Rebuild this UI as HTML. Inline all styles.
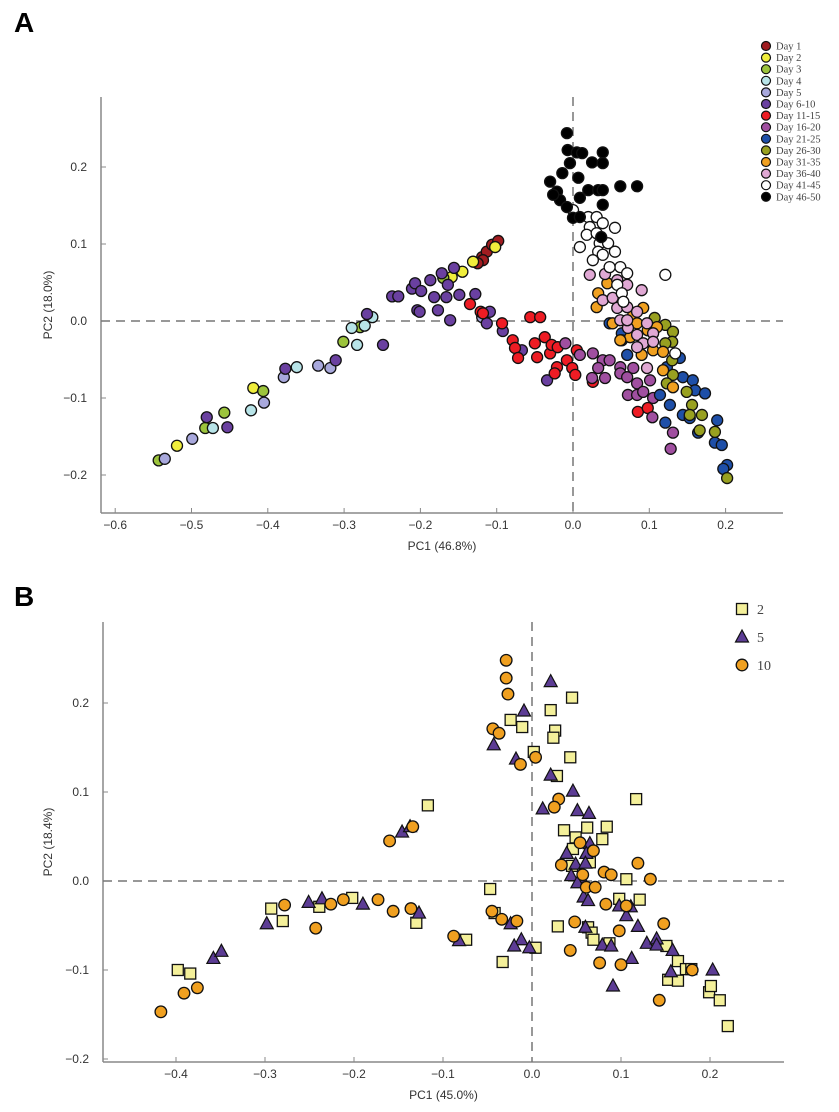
<!DOCTYPE html>
<html><head><meta charset="utf-8"><style>
body{margin:0;background:#fff;}
svg{display:block;font-family:"Liberation Sans",sans-serif;}
</style></head><body>
<svg id="fig" width="839" height="1112" viewBox="0 0 839 1112" xmlns="http://www.w3.org/2000/svg">
<text x="14" y="32" font-size="28" font-weight="bold">A</text>
<text x="14" y="606" font-size="28" font-weight="bold">B</text>
<g id="pa"></g>
<g id="pb"></g>
</svg>
<script>
// ===== Panel A data =====
const groupsA = ["Day 1","Day 2","Day 3","Day 4","Day 5","Day 6-10","Day 11-15","Day 16-20","Day 21-25","Day 26-30","Day 31-35","Day 36-40","Day 41-45","Day 46-50"];
const colorsA = ["#a01c20","#f0ee3c","#9cc43c","#b8e4e8","#a8a8dc","#6a40a0","#ee1c24","#a04fa0","#1e4fa8","#98a020","#f0a020","#e0a8d4","#ffffff","#000000"];
const ptsA = [
 [[-0.119,0.083],[-0.113,0.090],[-0.106,0.099],[-0.098,0.104],[-0.118,0.079],[-0.125,0.075]],
 [[-0.519,-0.162],[-0.419,-0.087],[-0.145,0.064],[-0.159,0.057],[-0.131,0.077],[-0.102,0.096]],
 [[-0.543,-0.181],[-0.482,-0.139],[-0.457,-0.119],[-0.406,-0.091],[-0.301,-0.027],[-0.279,-0.008],[-0.170,0.056]],
 [[-0.472,-0.139],[-0.422,-0.116],[-0.362,-0.060],[-0.290,-0.009],[-0.283,-0.031],[-0.273,-0.006],[-0.263,0.005]],
 [[-0.535,-0.179],[-0.499,-0.153],[-0.405,-0.106],[-0.379,-0.073],[-0.334,-0.058],[-0.318,-0.061],[-0.119,0.005]],
 [[-0.480,-0.125],[-0.453,-0.138],[-0.377,-0.062],[-0.311,-0.051],[-0.270,0.009],[-0.249,-0.031],[-0.237,0.032],[-0.229,0.032],[-0.211,0.042],[-0.207,0.049],[-0.199,0.039],[-0.187,0.053],[-0.204,0.014],[-0.201,0.012],[-0.182,0.031],[-0.177,0.014],[-0.172,0.062],[-0.166,0.031],[-0.164,0.047],[-0.161,0.001],[-0.156,0.069],[-0.149,0.034],[-0.128,0.035],[-0.113,-0.003],[-0.109,0.012],[-0.092,-0.013],[-0.067,-0.038],[-0.034,-0.077]],
 [[-0.135,0.022],[-0.121,0.012],[-0.093,-0.003],[-0.079,-0.025],[-0.076,-0.035],[-0.072,-0.048],[-0.056,0.005],[-0.043,0.005],[-0.050,-0.029],[-0.047,-0.047],[-0.037,-0.021],[-0.030,-0.042],[-0.028,-0.031],[-0.020,-0.034],[-0.021,-0.060],[-0.024,-0.068],[-0.008,-0.051],[-0.001,-0.061],[0.003,-0.070],[0.005,-0.038],[0.026,-0.079],[0.085,-0.118],[0.098,-0.113],[-0.118,0.010]],
 [[0.009,-0.044],[0.026,-0.042],[0.039,-0.051],[0.048,-0.051],[0.033,-0.061],[0.042,-0.074],[0.062,-0.060],[0.062,-0.068],[0.079,-0.061],[0.071,-0.073],[0.084,-0.081],[0.101,-0.077],[0.072,-0.096],[0.084,-0.096],[0.105,-0.100],[0.092,-0.092],[0.104,-0.125],[0.131,-0.145],[0.128,-0.166],[-0.010,-0.029],[0.025,-0.074]],
 [[0.048,-0.003],[0.064,-0.016],[0.071,-0.044],[0.064,-0.025],[0.140,-0.048],[0.123,-0.060],[0.144,-0.073],[0.157,-0.077],[0.160,-0.090],[0.173,-0.094],[0.114,-0.096],[0.144,-0.122],[0.153,-0.126],[0.127,-0.109],[0.121,-0.132],[0.189,-0.129],[0.186,-0.158],[0.195,-0.161],[0.202,-0.187],[0.197,-0.192],[0.164,-0.145]],
 [[0.107,0.004],[0.121,-0.005],[0.131,-0.014],[0.130,-0.027],[0.121,-0.029],[0.130,-0.051],[0.131,-0.070],[0.123,-0.081],[0.149,-0.092],[0.156,-0.109],[0.153,-0.122],[0.169,-0.122],[0.166,-0.142],[0.186,-0.144],[0.202,-0.204]],
 [[0.045,0.049],[0.033,0.036],[0.031,0.018],[0.052,-0.003],[0.079,0.008],[0.092,0.017],[0.084,-0.003],[0.075,-0.021],[0.098,-0.012],[0.110,-0.008],[0.105,-0.038],[0.118,-0.040],[0.090,-0.044],[0.118,-0.064],[0.131,-0.086],[0.062,-0.025]],
 [[0.022,0.060],[0.042,0.061],[0.058,0.053],[0.071,0.047],[0.090,0.040],[0.039,0.027],[0.052,0.030],[0.058,0.017],[0.071,0.018],[0.084,0.012],[0.062,0.001],[0.097,-0.003],[0.072,-0.009],[0.084,-0.018],[0.105,-0.016],[0.092,-0.029],[0.084,-0.034],[0.105,-0.027],[0.097,-0.061],[0.071,0.001]],
 [[0.000,0.144],[0.020,0.135],[0.031,0.135],[0.039,0.127],[0.022,0.122],[0.055,0.121],[0.018,0.112],[0.031,0.114],[0.035,0.101],[0.046,0.101],[0.009,0.096],[0.033,0.090],[0.055,0.090],[0.026,0.079],[0.039,0.086],[0.062,0.070],[0.071,0.062],[0.048,0.070],[0.121,0.060],[0.058,0.047],[0.064,0.036],[0.066,0.025],[0.134,-0.042]],
 [[-0.008,0.244],[-0.007,0.222],[0.005,0.219],[0.012,0.218],[0.039,0.219],[0.025,0.206],[0.039,0.205],[-0.004,0.205],[-0.014,0.192],[0.007,0.186],[-0.030,0.181],[-0.021,0.168],[0.062,0.175],[0.084,0.175],[0.020,0.170],[0.033,0.170],[0.039,0.170],[0.009,0.160],[-0.017,0.157],[-0.008,0.148],[0.039,0.151],[0.000,0.134],[0.009,0.135],[0.037,0.109],[-0.026,0.164]]
];
const xTicksA = [-0.6,-0.5,-0.4,-0.3,-0.2,-0.1,0.0,0.1,0.2];
const yTicksA = [-0.2,-0.1,0.0,0.1,0.2];

// ===== Panel B data =====
const groupsB = ["2","5","10"];
const squaresB = [[-0.398,-0.100],[-0.384,-0.104],[-0.293,-0.031],[-0.280,-0.045],[-0.239,-0.029],[-0.202,-0.019],[-0.130,-0.047],[-0.117,0.085],[-0.074,-0.066],[0.045,0.206],[-0.024,0.181],[-0.011,0.173],[0.021,0.192],[0.026,0.169],[0.024,0.161],[0.002,0.145],[0.043,0.139],[0.028,0.118],[0.117,0.092],[0.036,0.057],[0.062,0.060],[0.084,0.061],[0.049,0.049],[0.079,0.047],[0.046,0.036],[0.065,0.021],[0.045,0.017],[0.106,0.002],[-0.047,-0.009],[0.098,-0.020],[0.121,-0.021],[-0.042,-0.036],[0.029,-0.051],[0.063,-0.052],[0.067,-0.058],[0.069,-0.066],[0.087,-0.070],[0.004,-0.075],[-0.033,-0.091],[0.151,-0.073],[0.164,-0.090],[0.173,-0.099],[0.179,-0.099],[0.153,-0.111],[0.164,-0.112],[0.199,-0.125],[0.201,-0.118],[0.211,-0.134],[0.220,-0.163]];
const trianglesB = [[-0.358,-0.087],[-0.349,-0.079],[-0.298,-0.048],[-0.251,-0.024],[-0.236,-0.020],[-0.190,-0.026],[-0.127,-0.036],[-0.146,0.055],[-0.137,0.061],[-0.082,-0.067],[0.021,0.224],[-0.009,0.191],[-0.043,0.153],[-0.018,0.137],[0.021,0.119],[0.046,0.101],[0.012,0.081],[0.051,0.079],[0.064,0.076],[0.065,0.042],[0.039,0.031],[0.061,0.031],[0.049,0.019],[0.060,0.020],[0.044,0.006],[0.055,0.004],[0.051,-0.002],[0.058,-0.018],[0.063,-0.022],[0.098,-0.028],[0.111,-0.029],[0.106,-0.039],[0.119,-0.051],[0.060,-0.052],[0.079,-0.072],[0.089,-0.073],[0.129,-0.070],[0.140,-0.065],[0.140,-0.072],[0.158,-0.078],[0.112,-0.087],[0.156,-0.102],[0.203,-0.100],[0.091,-0.118],[-0.024,-0.048],[-0.012,-0.066],[-0.020,-0.073],[-0.003,-0.075]];
const circlesB = [[-0.417,-0.147],[-0.391,-0.126],[-0.376,-0.120],[-0.278,-0.027],[-0.243,-0.053],[-0.226,-0.026],[-0.212,-0.021],[-0.173,-0.021],[-0.156,-0.034],[-0.136,-0.031],[-0.160,0.045],[-0.134,0.061],[-0.088,-0.062],[-0.029,0.248],[-0.029,0.228],[-0.027,0.210],[-0.044,0.171],[-0.037,0.166],[-0.013,0.131],[0.004,0.139],[0.030,0.092],[0.025,0.083],[0.054,0.043],[0.069,0.034],[0.033,0.018],[0.081,0.010],[0.089,0.007],[0.119,0.020],[0.133,0.002],[0.057,0.007],[0.061,-0.007],[0.071,-0.007],[0.083,-0.026],[0.106,-0.028],[-0.045,-0.034],[-0.034,-0.043],[-0.017,-0.045],[0.048,-0.046],[0.098,-0.056],[0.148,-0.048],[0.043,-0.078],[0.076,-0.092],[0.100,-0.094],[0.180,-0.100],[0.143,-0.134]];
const xTicksB = [-0.4,-0.3,-0.2,-0.1,0.0,0.1,0.2];
const yTicksB = [-0.2,-0.1,0.0,0.1,0.2];

const NS="http://www.w3.org/2000/svg";
function mk(parent,tag,attrs){const e=document.createElementNS(NS,tag);for(const k in attrs)e.setAttribute(k,attrs[k]);parent.appendChild(e);return e;}
function fmt(v){return (v<0?"\u2212":"")+Math.abs(v).toFixed(1);}

function axes(g,sx,sy,L,R,T,B,xt,yt,xlabel,ylabel){
  const ax=mk(g,"g",{});
  
  
  mk(ax,"line",{x1:L,y1:T,x2:L,y2:B,stroke:"#888","stroke-width":1.5});
  mk(ax,"line",{x1:L,y1:B,x2:R,y2:B,stroke:"#888","stroke-width":1.5});
  xt.forEach(v=>{const x=sx(v);
    mk(ax,"line",{x1:x,y1:B,x2:x,y2:B-5,stroke:"#888","stroke-width":1});
    const t=mk(ax,"text",{x:x,y:B+16,"font-size":12,"text-anchor":"middle",fill:"#333"});
    
    
    t.textContent=fmt(v);});
  yt.forEach(v=>{const y=sy(v);
    mk(ax,"line",{x1:L,y1:y,x2:L+5,y2:y,stroke:"#888","stroke-width":1});
    const t=mk(ax,"text",{x:L-14,y:y+4,"font-size":12,"text-anchor":"end",fill:"#333"});
    
    
    t.textContent=fmt(v);});
  mk(ax,"line",{x1:L,y1:sy(0),x2:R,y2:sy(0),stroke:"#777","stroke-width":1.5,"stroke-dasharray":"9,6"});
  mk(ax,"line",{x1:sx(0),y1:T,x2:sx(0),y2:B,stroke:"#777","stroke-width":1.5,"stroke-dasharray":"9,6"});
  const xl=mk(ax,"text",{x:(L+R)/2,y:B+37,"font-size":12,"text-anchor":"middle",fill:"#333"});
  
  
  xl.textContent=xlabel;
  const yc=(T+B)/2;
  const yl=mk(ax,"text",{x:52,y:yc,"font-size":12,"text-anchor":"middle",fill:"#333",transform:`rotate(-90 52 ${yc})`});
  
  
  yl.textContent=ylabel;
}

// Panel A
(function(){
  const g=document.getElementById("pa");
  const sx=v=>573+v*763, sy=v=>321-v*770;
  axes(g,sx,sy,101,783,97,513,xTicksA,yTicksA,"PC1 (46.8%)","PC2 (18.0%)");
  ptsA.forEach((arr,gi)=>{
    const gg=mk(g,"g",{});
    
    
    arr.forEach(p=>{
      const c=mk(gg,"circle",{cx:sx(p[0]),cy:sy(p[1]),r:5.5,fill:colorsA[gi],stroke:"#111","stroke-width":1.3});
      
      
    });
  });
  const lg=mk(g,"g",{});
  
  
  groupsA.forEach((n,i)=>{
    const y=46+i*11.6;
    const c=mk(lg,"circle",{cx:766,cy:y,r:4.5,fill:colorsA[i],stroke:"#111","stroke-width":1.2});
    
    
    const t=mk(lg,"text",{x:776,y:y+3.5,"font-size":10.5,fill:"#444","font-family":"Liberation Serif, serif"});
    
    
    t.textContent=n;
  });
})();

// Panel B
(function(){
  const g=document.getElementById("pb");
  const sx=v=>532+v*890, sy=v=>881-v*890;
  axes(g,sx,sy,103,784,622,1062,xTicksB,yTicksB,"PC1 (45.0%)","PC2 (18.4%)");
  function sq(par,x,y){const s=mk(par,"rect",{x:x-5.5,y:y-5.5,width:11,height:11,fill:"#f4f09a",stroke:"#111","stroke-width":1.3});return s;}
  function tri(par,x,y){return mk(par,"polygon",{points:`${x},${y-7} ${x-6.5},${y+5} ${x+6.5},${y+5}`,fill:"#5c3c94",stroke:"#111","stroke-width":1.2});}
  function cir(par,x,y){return mk(par,"circle",{cx:x,cy:y,r:5.8,fill:"#f0a020",stroke:"#111","stroke-width":1.3});}
  const g2=mk(g,"g",{});  
  squaresB.forEach(p=>{const e=sq(g2,sx(p[0]),sy(p[1]));
    
    });
  const g5=mk(g,"g",{});  
  trianglesB.forEach(p=>{const e=tri(g5,sx(p[0]),sy(p[1]));
    
    });
  const g10=mk(g,"g",{});  
  circlesB.forEach(p=>{const e=cir(g10,sx(p[0]),sy(p[1]));
    
    });
  const lg=mk(g,"g",{});
  
  
  const fns=[sq,tri,cir];
  groupsB.forEach((n,i)=>{
    const y=609+i*28;
    const m=fns[i](lg,742,y);
    
    
    const t=mk(lg,"text",{x:757,y:y+5,"font-size":14,fill:"#444","font-family":"Liberation Serif, serif"});
    
    
    t.textContent=n;
  });
})();
</script>
</body></html>
